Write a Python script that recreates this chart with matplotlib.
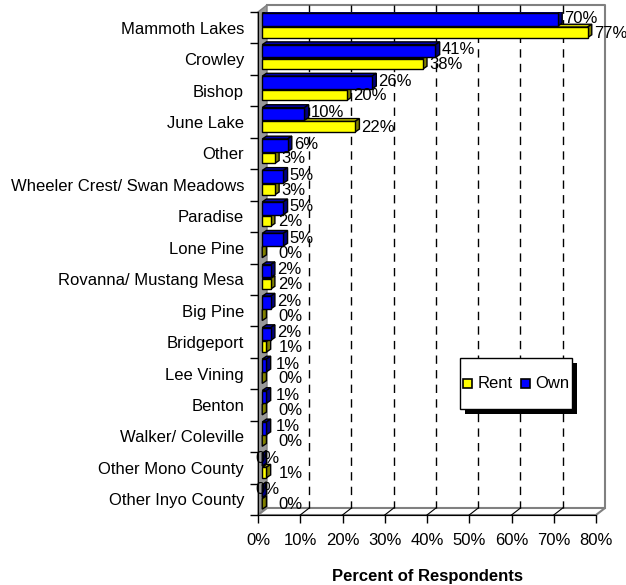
import matplotlib
matplotlib.use("Agg")
import matplotlib.pyplot as plt
from matplotlib.patches import Polygon, Rectangle
import numpy as np

plt.rcParams['font.family'] = ['Liberation Sans', 'DejaVu Sans']

# data
places = ["Mammoth Lakes", "Crowley", "Bishop", "June Lake", "Other",
          "Wheeler Crest/ Swan Meadows", "Paradise", "Lone Pine",
          "Rovanna/ Mustang Mesa", "Big Pine", "Bridgeport", "Lee Vining",
          "Benton", "Walker/ Coleville", "Other Mono County", "Other Inyo County"]
own = [70, 41, 26, 10, 6, 5, 5, 5, 2, 2, 2, 1, 1, 1, 0, 0]
rent = [77, 38, 20, 22, 3, 3, 2, 0, 2, 0, 1, 0, 0, 0, 1, 0]
xticks = [0, 10, 20, 30, 40, 50, 60, 70, 80]

n = len(places)
DX, DY = 2.13, -0.223      # depth of the back wall (data units)
BX, BY = 1.0, -0.09        # depth of each bar
X0 = 1.0                   # bars start at the wall

W, H = 626, 585
fig = plt.figure(figsize=(W / 100, H / 100), dpi=100)
ax = fig.add_axes([258/W, 1 - 515/H, 338/W, 503/H])
ax.set_xlim(0, 80)
ax.set_ylim(n, 0)

grey = '#808080'
# left wall
ax.add_patch(Polygon([(0, 0), (DX, DY), (DX, n + DY), (0, n)], closed=True,
                     facecolor='#999999', edgecolor=grey, lw=1, clip_on=False, zorder=1))
# floor
ax.add_patch(Polygon([(0, n), (DX, n + DY), (80 + DX, n + DY), (80, n)], closed=True,
                     facecolor='white', edgecolor=grey, lw=1.5, clip_on=False, zorder=1))
# back wall frame
ax.plot([DX, 80 + DX, 80 + DX], [DY, DY, n + DY], color=grey, lw=1.5, clip_on=False, zorder=1)

# gridlines on back wall and floor
for t in xticks[1:-1]:
    ax.plot([t + DX, t + DX], [DY, n + DY], color='black', lw=1,
            dashes=(6, 4.5), clip_on=False, zorder=1)
    ax.plot([t, t + DX], [n, n + DY], color='black', lw=0.8, clip_on=False, zorder=1)


def bar3d(y0, y1, v, front, top, side):
    x1 = X0 + v
    ax.add_patch(Polygon([(X0, y0), (X0 + BX, y0 + BY), (x1 + BX, y0 + BY), (x1, y0)],
                         closed=True, facecolor=top, edgecolor='black', lw=1, zorder=3))
    ax.add_patch(Polygon([(x1, y0), (x1 + BX, y0 + BY), (x1 + BX, y1 + BY), (x1, y1)],
                         closed=True, facecolor=side, edgecolor='black', lw=1, zorder=3))
    if v > 0:
        ax.add_patch(Rectangle((X0, y0), v, y1 - y0, facecolor=front,
                               edgecolor='black', lw=1, zorder=3))


for i in range(n):
    bar3d(i + 0.48, i + 0.815, rent[i], '#FFFF00', '#CCCC00', '#808000')
    bar3d(i + 0.04, i + 0.445, own[i], '#0000FF', '#0000AA', '#000080')

# value labels (small values sit a little clear of the wall)
for i in range(n):
    bx = max(own[i] + 2.5, 4.3) if own[i] > 0 else -0.7
    ax.text(bx, i + 0.2, f"{own[i]}%", fontsize=12, va='center', ha='left', zorder=4)
    rx = max(rent[i] + 2.5, 4.8)
    ax.text(rx, i + 0.67, f"{rent[i]}%", fontsize=12, va='center', ha='left', zorder=4)

for s in ['top', 'right']:
    ax.spines[s].set_visible(False)
for s in ['left', 'bottom']:
    ax.spines[s].set_color('black')
    ax.spines[s].set_zorder(5)

ax.set_xticks(xticks)
ax.set_xticklabels([f"{t}%" for t in xticks], fontsize=12)
ax.tick_params(axis='x', direction='out', length=6, width=1, pad=7)
ax.set_yticks(np.arange(n + 1))
ax.set_yticklabels([])
ax.tick_params(axis='y', which='major', direction='out', length=6, width=1)
ax.set_yticks(np.arange(n) + 0.5, minor=True)
ax.set_yticklabels(places, minor=True, fontsize=12)
ax.tick_params(axis='y', which='minor', length=0, pad=10)

ax.set_xlabel("Percent of Respondents", fontsize=12, fontweight='bold', labelpad=15)

# legend drawn by hand: box with a black drop shadow
def fig_rect(x, y, w, h, **kw):
    fig.patches.append(Rectangle((x / W, 1 - (y + h) / H), w / W, h / H,
                                 transform=fig.transFigure, **kw))

fig_rect(465, 363, 112, 51, facecolor='black', edgecolor='none', zorder=6)
fig_rect(460, 358, 112, 51, facecolor='white', edgecolor='black', lw=1, zorder=7)
fig_rect(463, 379, 9, 9, facecolor='#FFFF00', edgecolor='black', lw=1.2, zorder=8)
fig_rect(521, 379, 9, 9, facecolor='#0000FF', edgecolor='black', lw=1.2, zorder=8)
fig.text(478 / W, 1 - 384 / H, "Rent", fontsize=12, va='center', ha='left', zorder=9)
fig.text(535 / W, 1 - 384 / H, "Own", fontsize=12, va='center', ha='left', zorder=9)

fig.savefig("out.png", dpi=100)
